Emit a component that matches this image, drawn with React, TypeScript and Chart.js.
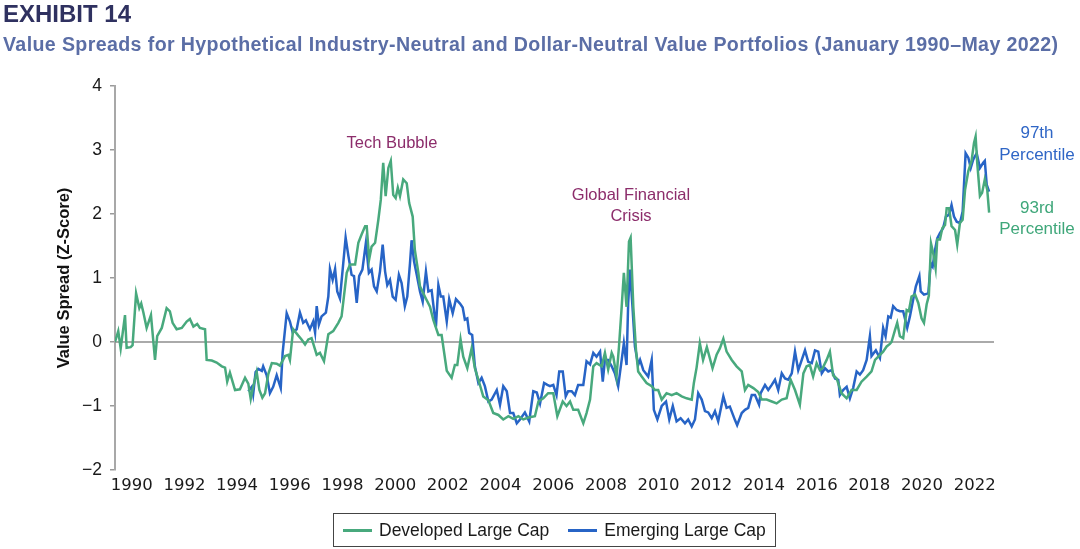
import React, { useEffect, useRef } from 'react';
import { Chart, registerables } from 'chart.js';

Chart.register(...registerables);

// Developed Large Cap (dates as decimal years, values as z-scores)
const devDates = [
  1990.00, 1990.12, 1990.21, 1990.37, 1990.43, 1990.58, 1990.65, 1990.78, 1990.90, 1990.97,
  1991.05, 1991.17, 1991.33, 1991.48, 1991.56, 1991.73, 1991.91, 1992.03, 1992.13, 1992.28,
  1992.47, 1992.65, 1992.77, 1992.90, 1993.04, 1993.14, 1993.33, 1993.39, 1993.58, 1993.76,
  1993.95, 1994.07, 1994.15, 1994.25, 1994.44, 1994.62, 1994.81, 1994.93, 1995.02, 1995.11,
  1995.24, 1995.34, 1995.45, 1995.55, 1995.67, 1995.80, 1995.98, 1996.10, 1996.29, 1996.41,
  1996.47, 1996.59, 1996.78, 1996.90, 1997.03, 1997.15, 1997.27, 1997.46, 1997.58, 1997.73,
  1997.89, 1998.07, 1998.26, 1998.38, 1998.57, 1998.69, 1998.88, 1999.00, 1999.12, 1999.25,
  1999.31, 1999.40, 1999.49, 1999.62, 1999.74, 1999.83, 1999.92, 2000.01, 2000.11, 2000.20,
  2000.29, 2000.38, 2000.46, 2000.54, 2000.66, 2000.79, 2000.88, 2001.01, 2001.09, 2001.22,
  2001.28, 2001.46, 2001.65, 2001.77, 2001.96, 2002.08, 2002.27, 2002.45, 2002.57, 2002.66,
  2002.78, 2002.88, 2003.03, 2003.19, 2003.31, 2003.44, 2003.62, 2003.81, 2003.99, 2004.18,
  2004.36, 2004.55, 2004.73, 2004.92, 2005.10, 2005.29, 2005.53, 2005.66, 2005.84, 2006.02,
  2006.21, 2006.36, 2006.56, 2006.70, 2006.83, 2006.95, 2007.13, 2007.32, 2007.44, 2007.57,
  2007.69, 2007.81, 2008.00, 2008.12, 2008.24, 2008.37, 2008.43, 2008.55, 2008.64, 2008.74,
  2008.82, 2008.92, 2009.01, 2009.07, 2009.17, 2009.27, 2009.35, 2009.48, 2009.66, 2009.85,
  2009.97, 2010.09, 2010.22, 2010.40, 2010.59, 2010.77, 2010.96, 2011.14, 2011.33, 2011.41,
  2011.51, 2011.63, 2011.75, 2011.89, 2012.10, 2012.25, 2012.37, 2012.50, 2012.62, 2012.81,
  2012.99, 2013.18, 2013.30, 2013.42, 2013.61, 2013.79, 2013.92, 2014.10, 2014.29, 2014.47,
  2014.66, 2014.84, 2014.99, 2015.15, 2015.33, 2015.46, 2015.58, 2015.70, 2015.82, 2015.95,
  2016.07, 2016.17, 2016.32, 2016.44, 2016.56, 2016.69, 2016.87, 2017.06, 2017.24, 2017.43,
  2017.61, 2017.80, 2017.98, 2018.11, 2018.23, 2018.41, 2018.54, 2018.66, 2018.72, 2018.85,
  2018.93, 2019.03, 2019.15, 2019.28, 2019.36, 2019.46, 2019.59, 2019.71, 2019.83, 2019.92,
  2020.02, 2020.10, 2020.18, 2020.26, 2020.35, 2020.41, 2020.51, 2020.60, 2020.70, 2020.76,
  2020.85, 2020.94, 2021.07, 2021.15, 2021.25, 2021.35, 2021.44, 2021.56, 2021.68, 2021.77,
  2021.83, 2021.89, 2021.99, 2022.07, 2022.17, 2022.26, 2022.33,
];
const devValues = [
  0.00, 0.17, -0.10, 0.42, -0.09, -0.08, -0.05, 0.76, 0.53, 0.60,
  0.46, 0.22, 0.42, -0.28, 0.09, 0.22, 0.53, 0.48, 0.30, 0.20,
  0.22, 0.32, 0.36, 0.24, 0.28, 0.22, 0.20, -0.28, -0.29, -0.32,
  -0.38, -0.40, -0.62, -0.48, -0.75, -0.74, -0.56, -0.65, -0.89, -0.70,
  -0.47, -0.75, -0.87, -0.80, -0.50, -0.33, -0.34, -0.37, -0.22, -0.20,
  -0.28, 0.20, 0.10, 0.04, -0.04, 0.04, 0.06, -0.20, -0.17, -0.30,
  0.12, 0.17, 0.30, 0.40, 1.08, 1.21, 1.21, 1.55, 1.68, 1.81,
  1.81, 1.29, 1.49, 1.55, 1.91, 2.22, 2.80, 2.28, 2.72, 2.83,
  2.30, 2.25, 2.41, 2.28, 2.54, 2.48, 2.17, 1.96, 1.44, 1.08,
  0.87, 0.71, 0.55, 0.35, 0.11, 0.11, -0.45, -0.56, -0.36, -0.36,
  0.04, -0.23, -0.41, -0.10, -0.41, -0.59, -0.85, -0.91, -1.11, -1.14,
  -1.21, -1.16, -1.20, -1.16, -1.21, -1.18, -1.16, -0.93, -0.88, -0.80,
  -0.80, -1.16, -0.93, -1.00, -0.93, -1.06, -1.06, -1.27, -1.11, -0.90,
  -0.38, -0.33, -0.38, -0.17, -0.43, -0.17, -0.23, -0.54, -0.07, 0.55,
  1.08, 0.55, 1.57, 1.63, 0.55, -0.13, -0.46, -0.54, -0.64, -0.69,
  -0.75, -0.75, -0.90, -0.80, -0.83, -0.80, -0.85, -0.88, -0.90, -0.64,
  -0.40, -0.02, -0.28, -0.08, -0.41, -0.20, -0.10, 0.05, -0.15, -0.28,
  -0.38, -0.46, -0.75, -0.67, -0.72, -0.78, -0.90, -0.90, -0.93, -0.96,
  -0.90, -0.88, -0.59, -0.75, -0.98, -0.49, -0.38, -0.36, -0.54, -0.33,
  -0.44, -0.41, -0.28, -0.15, -0.52, -0.57, -0.80, -0.88, -0.75, -0.75,
  -0.62, -0.54, -0.46, -0.28, -0.23, -0.15, -0.07, -0.03, 0.00, 0.19,
  0.30, 0.09, 0.06, 0.50, 0.48, 0.71, 0.74, 0.61, 0.37, 0.30,
  0.59, 0.72, 1.54, 1.39, 1.15, 1.60, 1.60, 1.78, 1.83, 2.09,
  2.09, 1.81, 1.75, 1.52, 1.86, 1.91, 2.38, 2.67, 2.83, 3.11,
  3.21, 2.80, 2.28, 2.33, 2.54, 2.38, 2.02,
];

// Emerging Large Cap
const emDates = [
  1994.93, 1995.06, 1995.11, 1995.20, 1995.30, 1995.43, 1995.48, 1995.61, 1995.73, 1995.85,
  1995.98, 1996.13, 1996.20, 1996.35, 1996.47, 1996.57, 1996.72, 1996.84, 1996.96, 1997.06,
  1997.21, 1997.33, 1997.40, 1997.46, 1997.54, 1997.64, 1997.80, 1997.89, 1997.95, 1998.05,
  1998.14, 1998.22, 1998.32, 1998.44, 1998.53, 1998.63, 1998.75, 1998.84, 1998.94, 1999.03,
  1999.15, 1999.28, 1999.39, 1999.49, 1999.58, 1999.68, 1999.80, 1999.90, 1999.99, 2000.07,
  2000.17, 2000.27, 2000.38, 2000.50, 2000.60, 2000.72, 2000.81, 2000.91, 2000.97, 2001.06,
  2001.16, 2001.28, 2001.38, 2001.50, 2001.59, 2001.71, 2001.87, 2001.96, 2002.05, 2002.14,
  2002.27, 2002.36, 2002.49, 2002.61, 2002.76, 2002.86, 2002.94, 2003.03, 2003.10, 2003.21,
  2003.31, 2003.44, 2003.56, 2003.68, 2003.81, 2003.93, 2004.12, 2004.24, 2004.36, 2004.49,
  2004.61, 2004.73, 2004.86, 2004.98, 2005.16, 2005.32, 2005.47, 2005.60, 2005.72, 2005.87,
  2005.99, 2006.09, 2006.21, 2006.33, 2006.43, 2006.56, 2006.67, 2006.76, 2006.89, 2007.01,
  2007.13, 2007.32, 2007.44, 2007.57, 2007.69, 2007.81, 2007.94, 2008.04, 2008.12, 2008.24,
  2008.37, 2008.49, 2008.61, 2008.74, 2008.82, 2008.92, 2008.98, 2009.05, 2009.13, 2009.23,
  2009.35, 2009.42, 2009.54, 2009.72, 2009.85, 2009.93, 2010.06, 2010.22, 2010.38, 2010.50,
  2010.63, 2010.77, 2010.92, 2011.08, 2011.20, 2011.33, 2011.45, 2011.57, 2011.70, 2011.82,
  2011.94, 2012.07, 2012.19, 2012.31, 2012.50, 2012.62, 2012.74, 2012.93, 2013.01, 2013.18,
  2013.30, 2013.42, 2013.55, 2013.67, 2013.82, 2013.88, 2014.04, 2014.16, 2014.29, 2014.41,
  2014.53, 2014.66, 2014.78, 2014.90, 2015.03, 2015.15, 2015.27, 2015.40, 2015.52, 2015.64,
  2015.77, 2015.89, 2016.01, 2016.14, 2016.26, 2016.38, 2016.51, 2016.63, 2016.75, 2016.81,
  2016.93, 2017.06, 2017.18, 2017.30, 2017.43, 2017.55, 2017.67, 2017.80, 2017.92, 2017.98,
  2018.14, 2018.29, 2018.41, 2018.50, 2018.60, 2018.69, 2018.78, 2018.91, 2019.03, 2019.15,
  2019.30, 2019.40, 2019.52, 2019.62, 2019.75, 2019.80, 2019.92, 2020.08, 2020.17, 2020.24,
  2020.33, 2020.41, 2020.51, 2020.63, 2020.73, 2020.85, 2020.94, 2021.03, 2021.13, 2021.25,
  2021.35, 2021.46, 2021.56, 2021.65, 2021.74, 2021.87, 2021.99, 2022.11, 2022.17, 2022.24,
  2022.33,
];
const emValues = [
  -0.77, -0.70, -0.82, -0.47, -0.42, -0.45, -0.38, -0.52, -0.80, -0.70,
  -0.52, -0.72, -0.17, 0.45, 0.32, 0.15, 0.20, 0.46, 0.30, 0.34,
  0.20, 0.32, 0.15, 0.56, 0.27, 0.40, 0.46, 0.71, 1.14, 0.97,
  1.14, 0.79, 0.68, 1.22, 1.63, 1.35, 1.05, 1.03, 0.61, 1.03,
  1.13, 1.55, 1.08, 1.13, 0.87, 0.79, 1.10, 1.52, 1.10, 0.89,
  0.97, 0.71, 0.66, 1.05, 0.92, 0.56, 0.71, 1.23, 1.59, 1.26,
  1.05, 0.79, 0.63, 1.10, 0.79, 0.81, 0.24, 0.89, 0.71, 0.71,
  0.32, 0.67, 0.45, 0.67, 0.60, 0.54, 0.35, 0.37, 0.14, 0.11,
  -0.38, -0.64, -0.56, -0.69, -0.93, -0.90, -0.75, -0.98, -0.69, -0.77,
  -1.11, -1.11, -1.27, -1.21, -1.10, -1.24, -0.77, -0.79, -0.96, -0.64,
  -0.67, -0.69, -0.67, -0.83, -0.46, -0.46, -0.85, -0.77, -0.77, -0.83,
  -0.67, -0.67, -0.30, -0.35, -0.17, -0.23, -0.15, -0.62, -0.28, -0.28,
  -0.38, -0.49, -0.69, -0.28, -0.02, -0.36, 0.61, 1.13, 0.61, -0.07,
  -0.36, -0.28, -0.44, -0.54, -0.28, -1.06, -1.21, -1.00, -0.93, -1.21,
  -1.00, -1.24, -1.19, -1.27, -1.21, -1.32, -1.21, -0.80, -0.90, -1.08,
  -1.10, -1.19, -1.08, -1.24, -0.85, -1.03, -1.01, -1.22, -1.30, -1.11,
  -1.06, -1.03, -0.83, -0.83, -0.98, -0.80, -0.67, -0.75, -0.67, -0.59,
  -0.75, -0.49, -0.57, -0.59, -0.49, -0.15, -0.44, -0.28, -0.13, -0.31,
  -0.33, -0.13, -0.15, -0.49, -0.41, -0.46, -0.44, -0.57, -0.59, -0.83,
  -0.75, -0.70, -0.88, -0.72, -0.46, -0.51, -0.44, -0.28, 0.09, -0.22,
  -0.13, -0.25, 0.22, 0.09, 0.40, 0.38, 0.56, 0.50, 0.48, 0.48,
  0.22, 0.40, 0.66, 0.87, 1.03, 0.79, 0.74, 0.76, 1.23, 1.18,
  1.44, 1.62, 1.70, 1.78, 1.96, 1.99, 2.14, 1.96, 1.88, 1.86,
  2.04, 2.95, 2.88, 2.72, 2.85, 2.95, 2.72, 2.80, 2.83, 2.46,
  2.35,
];

const yearTicks = [1990, 1992, 1994, 1996, 1998, 2000, 2002, 2004, 2006, 2008, 2010, 2012, 2014, 2016, 2018, 2020, 2022];
const valueTicks = [-2, -1, 0, 1, 2, 3, 4];

const GREEN = '#48a97d';
const BLUE = '#2764c6';
const SANS = "'Liberation Sans', Arial, sans-serif";

export default function App() {
  const ref = useRef<HTMLCanvasElement>(null);

  useEffect(() => {
    if (!ref.current) return;
    const zeroLine = {
      id: 'zeroLine',
      beforeDatasetsDraw(chart: any) {
        const { ctx, chartArea, scales } = chart;
        const y = scales.y.getPixelForValue(0);
        ctx.save();
        ctx.strokeStyle = '#8e8e8e';
        ctx.lineWidth = 1.6;
        ctx.beginPath();
        ctx.moveTo(chartArea.left, y);
        ctx.lineTo(chartArea.right, y);
        ctx.stroke();
        ctx.restore();
      },
    };
    const chart = new Chart(ref.current, {
      type: 'line',
      data: {
        datasets: [
          {
            label: 'Developed Large Cap',
            data: devDates.map((x, i) => ({ x, y: devValues[i] })),
            borderColor: GREEN,
            backgroundColor: GREEN,
            borderWidth: 2.5,
            pointRadius: 0,
            tension: 0,
            xAxisID: 'x',
            yAxisID: 'y',
          },
          {
            label: 'Emerging Large Cap',
            data: emDates.map((x, i) => ({ x, y: emValues[i] })),
            borderColor: BLUE,
            backgroundColor: BLUE,
            borderWidth: 2.5,
            pointRadius: 0,
            tension: 0,
            xAxisID: 'x',
            yAxisID: 'y',
          },
        ],
      },
      options: {
        responsive: false,
        animation: false,
        events: [],
        layout: { padding: { left: 0, top: 86, right: 86, bottom: 51 } },
        plugins: { legend: { display: false }, tooltip: { enabled: false } },
        scales: {
          x: { type: 'linear', display: false, min: 1990, max: 2022.51 },
          xl: {
            type: 'linear',
            position: 'bottom',
            min: 1989.366,
            max: 2022.732,
            afterBuildTicks: (s: any) => {
              s.ticks = yearTicks.map((v) => ({ value: v }));
            },
            afterFit: (s: any) => {
              s.height = 28;
            },
            grid: { display: false, drawTicks: false },
            border: { display: false },
            ticks: {
              autoSkip: false,
              maxRotation: 0,
              minRotation: 0,
              padding: 6,
              color: '#1a1a1a',
              font: { family: "'DejaVu Sans', sans-serif", size: 16.5 },
              callback: (v: any) => String(v),
            },
          },
          y: {
            type: 'linear',
            min: -2,
            max: 4,
            afterBuildTicks: (s: any) => {
              s.ticks = valueTicks.map((v) => ({ value: v }));
            },
            afterFit: (s: any) => {
              s.width = 115;
            },
            grid: {
              drawOnChartArea: false,
              drawTicks: true,
              tickLength: 5,
              tickColor: '#9a9a9a',
              color: '#9a9a9a',
              lineWidth: 1.5,
            },
            border: { display: true, color: '#a8a8a8', width: 2 },
            ticks: {
              padding: 8,
              color: '#1a1a1a',
              font: { family: SANS, size: 17.5 },
              callback: (v: any) => String(v).replace('-', '\u2212'),
            },
            title: {
              display: true,
              text: 'Value Spread (Z-Score)',
              color: '#111111',
              font: { family: SANS, size: 16.5, weight: 'bold' },
              padding: { top: 55, bottom: 0 },
            },
          },
        },
      },
      plugins: [zeroLine],
    } as any);
    return () => chart.destroy();
  }, []);

  const abs = (s: React.CSSProperties): React.CSSProperties => ({ position: 'absolute', margin: 0, whiteSpace: 'nowrap', ...s });

  return (
    <div style={{ position: 'absolute', left: 0, top: 0, width: 1080, height: 549, background: '#ffffff', overflow: 'hidden' }}>
      <canvas ref={ref} width={1080} height={549} style={{ position: 'absolute', left: 0, top: 0, width: 1080, height: 549 }} />
      <div style={abs({ left: 3, top: 0, font: `bold 24px ${SANS}`, lineHeight: '27px', color: '#2f3160' })}>EXHIBIT 14</div>
      <div style={abs({ left: 3, top: 33, font: `bold 19.6px ${SANS}`, lineHeight: '22px', letterSpacing: '0.38px', color: '#5b6ea6' })}>
        Value Spreads for Hypothetical Industry-Neutral and Dollar-Neutral Value Portfolios (January 1990–May 2022)
      </div>
      <div style={abs({ left: 332, top: 131.5, width: 120, textAlign: 'center', font: `16.5px ${SANS}`, lineHeight: '21.5px', color: '#8c2d6b' })}>Tech Bubble</div>
      <div style={abs({ left: 561, top: 183.5, width: 140, textAlign: 'center', font: `16.5px ${SANS}`, lineHeight: '21px', color: '#8c2d6b' })}>
        Global Financial<br />Crisis
      </div>
      <div style={abs({ left: 987, top: 121.5, width: 100, textAlign: 'center', font: `17px ${SANS}`, lineHeight: '22px', color: '#2f66c6' })}>
        97th<br />Percentile
      </div>
      <div style={abs({ left: 987, top: 196.8, width: 100, textAlign: 'center', font: `17px ${SANS}`, lineHeight: '21px', color: '#3fa77a' })}>
        93rd<br />Percentile
      </div>
      <div
        style={abs({
          left: 333,
          top: 513,
          width: 443,
          height: 34,
          boxSizing: 'border-box',
          border: '1px solid #444444',
          display: 'flex',
          alignItems: 'center',
          font: `17.5px ${SANS}`,
          color: '#1a1a1a',
        })}
      >
        <span style={{ display: 'inline-block', width: 29, height: 3, background: GREEN, marginLeft: 9, marginRight: 7 }} />
        <span>Developed Large Cap</span>
        <span style={{ display: 'inline-block', width: 29, height: 3, background: BLUE, marginLeft: 19, marginRight: 7 }} />
        <span>Emerging Large Cap</span>
      </div>
    </div>
  );
}
